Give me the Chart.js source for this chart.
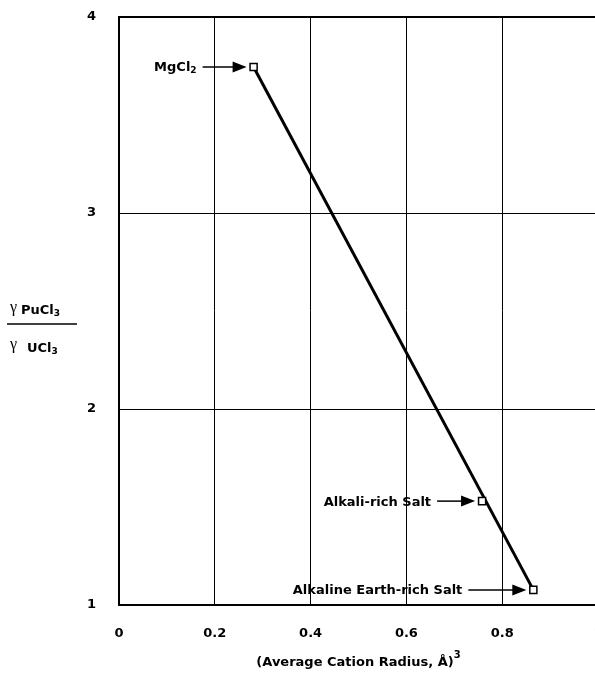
<!DOCTYPE html>
<html>
<head>
<meta charset="utf-8">
<script src="https://cdn.jsdelivr.net/npm/chart.js@4.4.0/dist/chart.umd.min.js"></script>
<style>
  html, body { margin: 0; padding: 0; background: #fff; overflow: hidden; }
  #wrap { position: relative; width: 620px; height: 677px; }
</style>
</head>
<body>
<div id="wrap"><canvas id="chart" width="620" height="677"></canvas></div>
<script>
// Data
const pointNames = ['MgCl2', 'Alkali-rich Salt', 'Alkaline Earth-rich Salt'];
const radiusCubed = [0.281, 0.758, 0.865];
const gammaRatio = [3.745, 1.53, 1.077];
const xTicks = [0, 0.2, 0.4, 0.6, 0.8, 1];
const yTicks = [1, 2, 3, 4];
// the straight line runs from the first to the last point
const lineEnds = [0, 2];

// arrow length for each label (px)
const arrowLen = [44, 38, 58];

const FAMILY = "'DejaVu Sans', sans-serif";
const mainFont = 'bold 13px ' + FAMILY;
const subFont = 'bold 9px ' + FAMILY;
const supFont = 'bold 10px ' + FAMILY;
const greekFont = "16px 'Liberation Serif', serif";

// split "MgCl2" into text / subscript pieces
function chem(text) {
    return text.split(/(\d+)/).filter(s => s.length).map(s => ({
        t: s,
        font: /^\d+$/.test(s) ? subFont : mainFont,
        dy: /^\d+$/.test(s) ? 2 : 0
    }));
}

function drawParts(ctx, parts, x, y, align) {
    let total = 0;
    parts.forEach(p => { ctx.font = p.font; total += ctx.measureText(p.t).width; });
    let cx = x;
    if (align === 'right') cx = x - total;
    if (align === 'center') cx = x - total / 2;
    const base = y + 4.5;
    ctx.textAlign = 'left';
    ctx.textBaseline = 'alphabetic';
    parts.forEach(p => {
        ctx.font = p.font;
        ctx.fillText(p.t, cx, base + p.dy);
        cx += ctx.measureText(p.t).width;
    });
}

const annotations = {
    id: 'annotations',
    afterDatasetsDraw(chart) {
        const {ctx, chartArea, scales: {x, y}} = chart;
        ctx.save();
        ctx.fillStyle = '#000';
        ctx.strokeStyle = '#000';

        pointNames.forEach((name, i) => {
            const px = x.getPixelForValue(radiusCubed[i]);
            const py = y.getPixelForValue(gammaRatio[i]);
            const tip = px - 7;
            const tail = tip - arrowLen[i];
            ctx.lineWidth = 1.5;
            ctx.beginPath();
            ctx.moveTo(tail, py);
            ctx.lineTo(tip - 10, py);
            ctx.stroke();
            ctx.beginPath();
            ctx.moveTo(tip, py);
            ctx.lineTo(tip - 14, py - 5.5);
            ctx.lineTo(tip - 14, py + 5.5);
            ctx.closePath();
            ctx.fill();
            drawParts(ctx, chem(name), tail - 6, py, 'right');
        });

        // y axis title: gamma ratio as a fraction
        drawParts(ctx, [{t: 'γ', font: greekFont, dy: 0}], 10, 307, 'left');
        drawParts(ctx, chem('PuCl3'), 21, 309, 'left');
        ctx.lineWidth = 1.5;
        ctx.beginPath();
        ctx.moveTo(7, 324);
        ctx.lineTo(77, 324);
        ctx.stroke();
        drawParts(ctx, [{t: 'γ', font: greekFont, dy: 0}], 10, 344, 'left');
        drawParts(ctx, chem('UCl3'), 27, 347, 'left');

        // x axis title with superscript 3
        const cx = (chartArea.left + chartArea.right) / 2;
        drawParts(ctx, [
            {t: '(Average Cation Radius, Å)', font: mainFont, dy: 0},
            {t: '3', font: supFont, dy: -8}
        ], cx, 661, 'center');

        ctx.restore();
    }
};

const tickFont = {family: FAMILY, size: 13, weight: 'bold'};

new Chart(document.getElementById('chart'), {
    data: {
        datasets: [
            {
                type: 'line',
                data: lineEnds.map(i => ({x: radiusCubed[i], y: gammaRatio[i]})),
                borderColor: '#000',
                borderWidth: 3,
                pointRadius: 0,
                order: 2
            },
            {
                type: 'scatter',
                data: radiusCubed.map((v, i) => ({x: v, y: gammaRatio[i]})),
                pointStyle: 'rect',
                pointRadius: 5,
                backgroundColor: '#fff',
                borderColor: '#000',
                borderWidth: 1.5,
                order: 1
            }
        ]
    },
    options: {
        responsive: false,
        animation: false,
        layout: {padding: {top: 17, right: 22, left: 0, bottom: 0}},
        plugins: {legend: {display: false}, tooltip: {enabled: false}},
        scales: {
            x: {
                type: 'linear',
                min: 0,
                max: 1,
                afterBuildTicks: s => { s.ticks = xTicks.map(v => ({value: v})); },
                afterFit: s => { s.height = 72; s.paddingLeft = 0; s.paddingRight = 0; },
                ticks: {color: '#000', font: tickFont, padding: 21, callback: v => String(v)},
                grid: {color: '#000', lineWidth: 1, drawTicks: false},
                border: {color: '#000', width: 2}
            },
            y: {
                type: 'linear',
                min: 1,
                max: 4,
                afterBuildTicks: s => { s.ticks = yTicks.map(v => ({value: v})); },
                afterFit: s => { s.width = 119; s.paddingTop = 0; s.paddingBottom = 0; },
                ticks: {color: '#000', font: tickFont, padding: 23, callback: v => String(v)},
                grid: {
                    color: '#000',
                    lineWidth: c => (c.tick && c.tick.value === 4 ? 2 : 1),
                    drawTicks: false
                },
                border: {color: '#000', width: 2}
            }
        }
    },
    plugins: [annotations]
});
</script>
</body>
</html>
